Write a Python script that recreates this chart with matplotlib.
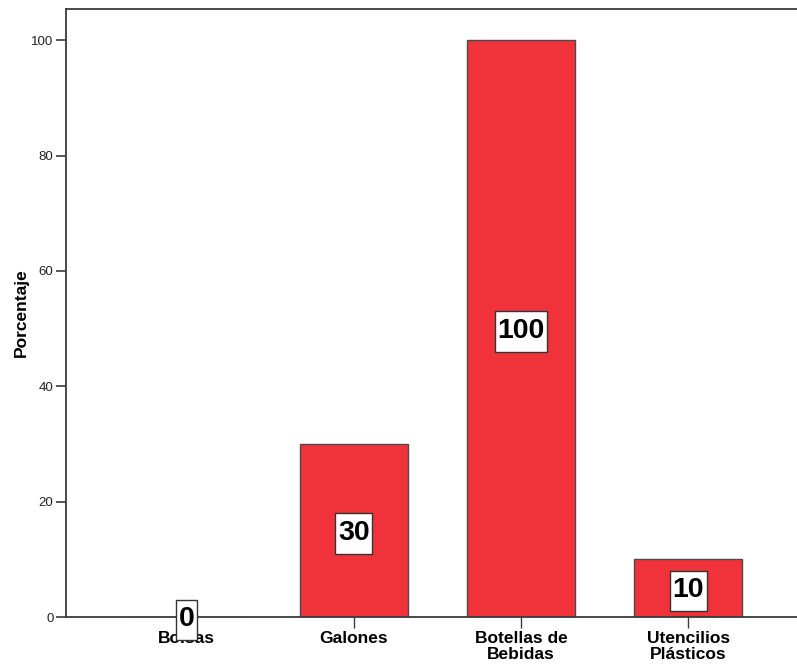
import numpy as np
import matplotlib.pyplot as plt
from matplotlib.path import Path

plt.rcParams['font.family'] = ['Liberation Sans', 'DejaVu Sans']

categorias = ['Bolsas', 'Galones', 'Botellas de\nBebidas', 'Utencilios\nPlásticos']
porcentajes = [0, 30, 100, 10]

rojo = (240 / 255, 50 / 255, 58 / 255)
gris = '#3a3a3a'


def caja(x0, y0, width, height, mutation_size):
    # recuadro con poco margen a los lados y más arriba/abajo
    px = 0.09 * mutation_size
    x1, y1 = x0 - px, y0 - 0.28 * mutation_size
    x2, y2 = x0 + width + px, y0 + height + 0.22 * mutation_size
    return Path([(x1, y1), (x2, y1), (x2, y2), (x1, y2), (x1, y1)], closed=True)


fig = plt.figure(figsize=(7.97, 6.64), dpi=100)
ax = fig.add_axes([66 / 797, 47 / 664, 1.0 - 66 / 797 + 0.002, (617 - 9) / 664])

x = np.arange(len(categorias))
ax.bar(x, porcentajes, width=0.647, color=rojo, edgecolor='#4a4a4a', linewidth=1.0, zorder=2)

# etiquetas con el valor en el centro de cada barra
for xi, v in zip(x, porcentajes):
    ax.annotate(str(v), (xi, v / 2), xytext=(0, -6.6), textcoords='offset points',
                ha='center', va='baseline', fontsize=20.5, fontweight='bold',
                color='black', zorder=4,
                bbox=dict(boxstyle=caja, facecolor='white', edgecolor='#333333', linewidth=1.0))

ax.set_xlim(-0.72, 3.66)
ax.set_ylim(0, 105.4)
ax.set_yticks([0, 20, 40, 60, 80, 100])
ax.set_xticks(x)
ax.set_xticklabels(categorias, fontsize=12.5, fontweight='bold', linespacing=1.1)
ax.tick_params(axis='y', direction='out', length=7, width=1.2, color=gris, labelsize=9.5,
               labelcolor='#222222', pad=2)
ax.tick_params(axis='x', direction='out', length=8, width=1.0, color=gris, pad=2)

ax.set_ylabel('Porcentaje', fontsize=12.5, fontweight='bold', labelpad=2)

for lado in ['left', 'top', 'bottom']:
    ax.spines[lado].set_color(gris)
    ax.spines[lado].set_linewidth(1.3)
ax.spines['right'].set_visible(False)

fig.savefig('out.png', dpi=100)
